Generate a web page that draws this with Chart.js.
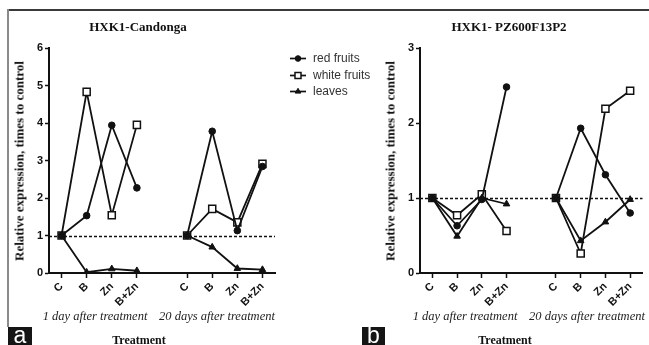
<!DOCTYPE html>
<html><head><meta charset="utf-8">
<script src="https://cdn.jsdelivr.net/npm/chart.js@4.4.0/dist/chart.umd.min.js"></script>
<style>
html,body{margin:0;padding:0;background:#fff;}
#wrap{position:relative;width:649px;height:345px;overflow:hidden;background:#fff;}
.t{position:absolute;white-space:nowrap;color:#111;line-height:1;}
.serif{font-family:"Liberation Serif","Times New Roman",serif;}
.ttl{font-weight:bold;font-size:13px;transform:translateX(-50%);}
.grp{font-style:italic;font-size:12.5px;transform:translateX(-50%);color:#222;}
.xt{font-weight:bold;font-size:12px;transform:translateX(-50%);}
.yt{font-weight:bold;font-size:13px;transform:translate(-50%,-50%) rotate(-90deg);}
.lab{position:absolute;background:#151515;color:#fff;font-family:"Liberation Sans",Arial,sans-serif;font-size:23px;line-height:17px;text-align:center;overflow:hidden;}
canvas{position:absolute;top:0;}
</style></head><body>
<div id="wrap">
  <div style="position:absolute;left:8px;top:9px;width:641px;height:2px;background:#3a3a3a"></div>
  <div style="position:absolute;left:7px;top:9px;width:2px;height:318px;background:#8a8a8a"></div>
  <canvas id="ca" width="380" height="345" style="left:0;width:380px;height:345px"></canvas>
  <canvas id="cb" width="269" height="345" style="left:380px;width:269px;height:345px"></canvas>
  <div class="t serif ttl" style="left:138px;top:20px">HXK1-Candonga</div>
  <div class="t serif ttl" style="left:509px;top:20px">HXK1- PZ600F13P2</div>
  <div class="t serif yt" style="left:19px;top:161px">Relative expression, times to control</div>
  <div class="t serif yt" style="left:390px;top:161px">Relative expression, times to control</div>
  <div class="t serif grp" id="ga1" style="left:95px;top:310px"></div>
  <div class="t serif grp" id="ga2" style="left:217px;top:310px"></div>
  <div class="t serif grp" id="gb1" style="left:465px;top:310px"></div>
  <div class="t serif grp" id="gb2" style="left:587px;top:310px"></div>
  <div class="t serif xt" style="left:139px;top:334px">Treatment</div>
  <div class="t serif xt" style="left:505px;top:334px">Treatment</div>
  <div class="lab" style="left:8px;top:327px;width:24px;height:18px">a</div>
  <div class="lab" style="left:362px;top:327px;width:23px;height:18px">b</div>
</div>
<script>
// ---- data ----
const categories = ['C', 'B', 'Zn', 'B+Zn'];
const groupLabels = ['1 day after treatment', '20 days after treatment'];
const seriesNames = ['red fruits', 'white fruits', 'leaves'];
const refValue = 1;

// Panel a: HXK1-Candonga
const candRed1   = [1, 1.53, 3.94, 2.27];
const candRed20  = [1, 3.78, 1.13, 2.84];
const candWhite1 = [1, 4.83, 1.54, 3.95];
const candWhite20= [1, 1.71, 1.35, 2.91];
const candLeaf1  = [1, 0.02, 0.11, 0.06];
const candLeaf20 = [1, 0.69, 0.12, 0.09];
const candTicksMax = 6;

// Panel b: HXK1- PZ600F13P2
const pzRed1   = [1, 0.63, 0.98, 2.48];
const pzRed20  = [1, 1.93, 1.31, 0.80];
const pzWhite1 = [1, 0.77, 1.05, 0.56];
const pzWhite20= [1, 0.26, 2.19, 2.43];
const pzLeaf1  = [1, 0.49, 1.00, 0.92];
const pzLeaf20 = [1, 0.43, 0.68, 0.98];
const pzTicksMax = 3;

document.getElementById('ga1').textContent = groupLabels[0];
document.getElementById('ga2').textContent = groupLabels[1];
document.getElementById('gb1').textContent = groupLabels[0];
document.getElementById('gb2').textContent = groupLabels[1];

const labels = [...categories, '', ...categories];
const join = (a, b) => [...a, null, ...b];

const INK = '#111';
const styles = [
  {pointStyle: 'circle', pointRadius: 3.3, pointBackgroundColor: INK, pointBorderWidth: 1, order: 0},
  {pointStyle: 'rect', pointRadius: 5, pointBackgroundColor: '#fff', pointBorderWidth: 1.5, order: 2},
  {pointStyle: 'triangle', pointRadius: 3.8, pointBackgroundColor: INK, pointBorderWidth: 1, order: 1}
];

const refLine = {
  id: 'refLine',
  beforeDatasetsDraw(chart) {
    const {ctx, chartArea, scales: {y}} = chart;
    const py = Math.round(y.getPixelForValue(refValue)) + 0.5;
    ctx.save();
    ctx.setLineDash([3, 2]);
    ctx.lineWidth = 1.6;
    ctx.strokeStyle = INK;
    ctx.beginPath();
    ctx.moveTo(chartArea.left, py);
    ctx.lineTo(chartArea.right, py);
    ctx.stroke();
    ctx.restore();
  }
};

function drawMarker(ctx, st, x, y, scale) {
  const r = st.pointRadius * scale;
  ctx.save();
  ctx.fillStyle = st.pointBackgroundColor;
  ctx.strokeStyle = INK;
  ctx.lineWidth = st.pointBorderWidth;
  ctx.beginPath();
  if (st.pointStyle === 'circle') {
    ctx.arc(x, y, r, 0, Math.PI * 2);
  } else if (st.pointStyle === 'rect') {
    const s = Math.SQRT1_2 * r;
    ctx.rect(x - s, y - s, 2 * s, 2 * s);
  } else {
    ctx.moveTo(x, y - r);
    ctx.lineTo(x + r * 0.866, y + r * 0.5);
    ctx.lineTo(x - r * 0.866, y + r * 0.5);
    ctx.closePath();
  }
  ctx.fill();
  ctx.stroke();
  ctx.restore();
}

const legendPlugin = {
  id: 'customLegend',
  afterDraw(chart) {
    const ctx = chart.ctx;
    const x0 = 290, x1 = 306, tx = 313;
    const ys = [58.5, 75.5, 91.5];
    ctx.save();
    seriesNames.forEach((name, i) => {
      ctx.strokeStyle = INK;
      ctx.lineWidth = 1.7;
      ctx.beginPath();
      ctx.moveTo(x0, ys[i]);
      ctx.lineTo(x1, ys[i]);
      ctx.stroke();
      drawMarker(ctx, styles[i], (x0 + x1) / 2, ys[i], 0.85);
      ctx.fillStyle = '#333';
      ctx.font = '12px "Liberation Sans", Arial, sans-serif';
      ctx.textBaseline = 'middle';
      ctx.fillText(name, tx, ys[i] + 0.5);
    });
    ctx.restore();
  }
};

function makeChart(id, series, yMax, padding, yWidth, extraPlugins) {
  const datasets = series.map((d, i) => Object.assign({
    label: seriesNames[i],
    data: d,
    borderColor: INK,
    pointBorderColor: INK,
    borderWidth: 1.8,
    tension: 0,
    spanGaps: false,
    fill: false
  }, styles[i]));
  return new Chart(document.getElementById(id), {
    type: 'line',
    data: {labels, datasets},
    options: {
      responsive: false,
      animation: false,
      devicePixelRatio: 1,
      events: [],
      layout: {padding},
      plugins: {legend: {display: false}, tooltip: {enabled: false}, title: {display: false}},
      scales: {
        x: {
          type: 'category',
          offset: true,
          grid: {
            offset: false, drawOnChartArea: false, drawTicks: true, tickLength: 5, tickWidth: 1.5,
            tickColor: (c) => (labels[c.index] === '' ? 'rgba(0,0,0,0)' : INK)
          },
          border: {display: true, color: INK, width: 2},
          ticks: {
            minRotation: 45, maxRotation: 45, autoSkip: false, color: INK, padding: 2,
            font: {family: '"Liberation Sans", Arial, sans-serif', weight: 'bold', size: 11}
          },
          afterFit: (s) => { s.height = 40; }
        },
        y: {
          min: 0, max: yMax,
          grid: {drawOnChartArea: false, drawTicks: true, tickLength: 4, tickWidth: 1.5, tickColor: INK},
          border: {display: true, color: INK, width: 2},
          ticks: {
            stepSize: 1, color: INK, padding: 2,
            font: {family: '"Liberation Sans", Arial, sans-serif', weight: 'bold', size: 11}
          },
          afterFit: (s) => { s.width = yWidth; }
        }
      }
    },
    plugins: [refLine, ...extraPlugins]
  });
}

makeChart('ca',
  [join(candRed1, candRed20), join(candWhite1, candWhite20), join(candLeaf1, candLeaf20)],
  candTicksMax, {left: 0, top: 48, right: 105, bottom: 32}, 49, [legendPlugin]);

makeChart('cb',
  [join(pzRed1, pzRed20), join(pzWhite1, pzWhite20), join(pzLeaf1, pzLeaf20)],
  pzTicksMax, {left: 0, top: 48, right: 4, bottom: 32}, 40, []);
</script>
</body></html>
